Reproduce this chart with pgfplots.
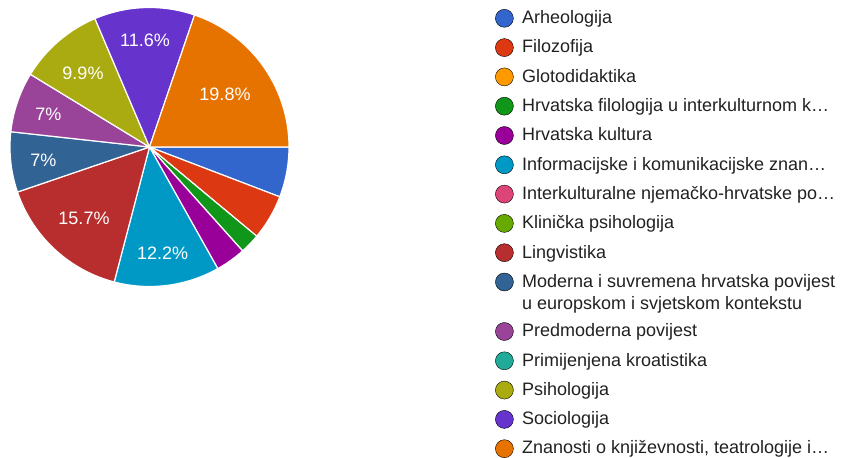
\documentclass[border=0pt]{standalone}
\usepackage{pgfplots}
\pgfplotsset{compat=1.18}
\usepackage{fontspec}
\setmainfont{Liberation Sans}
\definecolor{gArh}{HTML}{3366CC}
\definecolor{gFil}{HTML}{DC3912}
\definecolor{gGlo}{HTML}{FF9900}
\definecolor{gHfi}{HTML}{109618}
\definecolor{gHku}{HTML}{990099}
\definecolor{gInf}{HTML}{0099C6}
\definecolor{gInt}{HTML}{DD4477}
\definecolor{gKli}{HTML}{66AA00}
\definecolor{gLin}{HTML}{B82E2E}
\definecolor{gMod}{HTML}{316395}
\definecolor{gPre}{HTML}{994499}
\definecolor{gPri}{HTML}{22AA99}
\definecolor{gPsi}{HTML}{AAAA11}
\definecolor{gSoc}{HTML}{6633CC}
\definecolor{gZna}{HTML}{E67300}
\definecolor{textgray}{HTML}{212121}
\newcommand{\lgdstrut}{\rule[-4pt]{0pt}{19pt}}
\newcommand{\lgent}[1]{\lgdstrut#1}
\def\cum{0}
\def\slice#1/#2\relax{%
  \pgfmathsetmacro\a{-(\cum/172)*360}%
  \pgfmathsetmacro\cum{\cum+#1}%
  \pgfmathsetmacro\b{-(\cum/172)*360}%
  \ifnum#1>0
    \edef\temp{\noexpand\addplot[forget plot, fill=#2, draw=white, line width=1.2pt, line join=round, domain=\b:\a, samples=80] ({149.5+139.5*cos(x)},{310+139.5*sin(x)}) -- (axis cs:149.5,310) -- cycle;}%
    \temp
  \fi
}
\begin{document}
\begin{tikzpicture}
\begin{axis}[
  width=854pt, height=457pt, scale only axis,
  xmin=0, xmax=854, ymin=0, ymax=457,
  hide axis, clip=false,
  legend image code/.code={\fill (9pt,5.3pt) circle (9pt);},
  legend style={at={(axis cs:495.2,448.4)}, anchor=north west, draw=none, fill=none,
    inner sep=0pt, outer sep=0pt, row sep=10.4pt, column sep=8.5pt,
    font=\fontsize{18}{21.6}\selectfont, text=textgray,
    cells={anchor=base west}, nodes={inner sep=0pt}},
]
% counts per category (N = 172), clockwise from 3 o'clock
\pgfplotsforeachungrouped \s in {10/gArh,9/gFil,0/gGlo,4/gHfi,6/gHku,21/gInf,0/gInt,0/gKli,27/gLin,12/gMod,12/gPre,0/gPri,17/gPsi,20/gSoc,34/gZna}{\expandafter\slice\s\relax}

\addlegendimage{fill=gArh}\addlegendentry{\lgent{Arheologija}}
\addlegendimage{fill=gFil}\addlegendentry{\lgent{Filozofija}}
\addlegendimage{fill=gGlo}\addlegendentry{\lgent{Glotodidaktika}}
\addlegendimage{fill=gHfi}\addlegendentry{\lgent{Hrvatska filologija u interkulturnom k…}}
\addlegendimage{fill=gHku}\addlegendentry{\lgent{Hrvatska kultura}}
\addlegendimage{fill=gInf}\addlegendentry{\lgent{Informacijske i komunikacijske znan…}}
\addlegendimage{fill=gInt}\addlegendentry{\lgent{Interkulturalne njemačko-hrvatske po…}}
\addlegendimage{fill=gKli}\addlegendentry{\lgent{Klinička psihologija}}
\addlegendimage{fill=gLin}\addlegendentry{\lgent{Lingvistika}}
\addlegendimage{fill=gMod}\addlegendentry{\lgent{Moderna i suvremena hrvatska povijest}}
\addlegendimage{legend image code/.code={}}\addlegendentry{\rule[-4pt]{0pt}{12.3pt}\smash{u europskom i svjetskom kontekstu}}
\addlegendimage{fill=gPre}\addlegendentry{\lgent{Predmoderna povijest}}
\addlegendimage{fill=gPri}\addlegendentry{\lgent{Primijenjena kroatistika}}
\addlegendimage{fill=gPsi}\addlegendentry{\lgent{Psihologija}}
\addlegendimage{fill=gSoc}\addlegendentry{\lgent{Sociologija}}
\addlegendimage{fill=gZna}\addlegendentry{\lgent{Znanosti o književnosti, teatrologije i…}}

\tikzset{pielbl/.style={text=white, font=\fontsize{18}{21.6}\selectfont, text height=12.9pt, text depth=0pt, inner sep=0pt, anchor=center}}
\node[pielbl] at (axis cs:225,362.7) {19.8\%};
\node[pielbl] at (axis cs:145,417) {11.6\%};
\node[pielbl] at (axis cs:83,384) {9.9\%};
\node[pielbl] at (axis cs:48.3,342.7) {7\%};
\node[pielbl] at (axis cs:43.3,297) {7\%};
\node[pielbl] at (axis cs:84,238.7) {15.7\%};
\node[pielbl] at (axis cs:162.7,203.7) {12.2\%};
\path (axis cs:0,0) rectangle (axis cs:854,457);
\end{axis}
\end{tikzpicture}
\end{document}
